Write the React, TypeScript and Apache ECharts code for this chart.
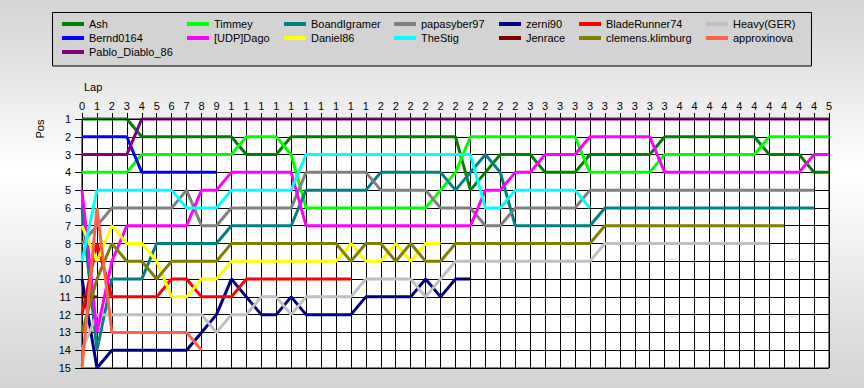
import React, { useEffect, useRef } from "react";
import * as echarts from "echarts";

// Drivers in series (legend row-major) order
const drivers = [
  "Ash", "Timmey", "BoandIgramer", "papasyber97", "zerni90", "BladeRunner74", "Heavy(GER)",
  "Bernd0164", "[UDP]Dago", "Daniel86", "TheStig", "Jenrace", "clemens.klimburg", "approxinova",
  "Pablo_Diablo_86",
];
const colors = [
  "#008000", "#00FF00", "#008080", "#808080", "#000080", "#FF0000", "#C0C0C0",
  "#0000FF", "#FF00FF", "#FFFF00", "#00FFFF", "#800000", "#808000", "#FF6347",
  "#800080",
];

// Position per lap, starting at lap 0
const ash = [1,1,1,1,2,2,2,2,2,2,2,3,3,3,2,2,2,2,2,2,2,2,2,2,2,2,5,4,3,3,3,4,4,4,3,3,3,3,3,2,2,2,2,2,2,2,3,3,3,4,4];
const timmey = [4,4,4,4,3,3,3,3,3,3,3,2,2,2,3,6,6,6,6,6,6,6,6,6,5,4,2,2,2,2,2,2,2,2,4,4,4,4,4,3,3,3,3,3,3,3,2,2,2,2,2];
const boandIgramer = [6,14,10,10,10,8,8,8,8,8,7,7,7,7,7,5,5,5,5,5,4,4,4,4,4,5,4,3,4,7,7,7,7,7,7,6,6,6,6,6,6,6,6,6,6,6,6,6,6,6];
const papasyber97 = [8,7,6,6,6,6,6,5,7,7,6,6,6,6,6,4,4,4,4,4,5,5,5,5,6,6,6,7,7,6,6,6,6,6,5,5,5,5,5,5,5,5,5,5,5,5,5,5,5,5];
const zerni90 = [10,15,14,14,14,14,14,14,13,12,10,11,12,12,11,12,12,12,12,11,11,11,11,10,11,10,10];
const bladeRunner74 = [12,8,11,11,11,11,10,10,11,11,11,10,10,10,10,10,10,10,10];
const heavyGER = [14,12,12,12,12,12,12,12,12,13,12,12,11,11,12,11,11,11,11,10,10,10,10,11,10,9,9,9,9,9,9,9,9,9,9,8,8,8,8,8,8,8,8,8,8,8,8];
const bernd0164 = [2,2,2,2,4,4,4,4,4,4];
const udpDago = [5,13,9,7,7,7,7,7,5,5,4,4,4,4,4,7,7,7,7,7,7,7,7,7,7,7,7,5,5,4,4,3,3,3,2,2,2,2,2,4,4,4,4,4,4,4,4,4,4,3,3];
const daniel86 = [7,9,7,8,8,9,11,11,10,10,9,9,9,9,9,9,9,9,8,9,9,8,9,8,8];
const theStig = [9,5,5,5,5,5,5,6,6,6,5,5,5,5,5,3,3,3,3,3,3,3,3,3,3,3,3,6,6,5,5,5,5,5,6];
const jenrace = [11,11];
const clemensKlimburg = [13,10,8,9,9,10,9,9,9,9,8,8,8,8,8,8,8,8,9,8,8,9,8,9,9,8,8,8,8,8,8,8,8,8,8,7,7,7,7,7,7,7,7,7,7,7,7,7];
const approxinova = [15,6,13,13,13,13,13,13,14];
const pabloDiablo86 = [3,3,3,3,1,1,1,1,1,1,1,1,1,1,1,1,1,1,1,1,1,1,1,1,1,1,1,1,1,1,1,1,1,1,1,1,1,1,1,1,1,1,1,1,1,1,1,1,1,1,1];

const positions = [
  ash, timmey, boandIgramer, papasyber97, zerni90, bladeRunner74, heavyGER,
  bernd0164, udpDago, daniel86, theStig, jenrace, clemensKlimburg, approxinova,
  pabloDiablo86,
];

// Lap tick labels (only first digit shown, as in the original)
const lapLabels = "012345678911111111112222222222333333333344444444445".split("");
const legendColumns = [
  ["Ash", "Bernd0164", "Pablo_Diablo_86"],
  ["Timmey", "[UDP]Dago"],
  ["BoandIgramer", "Daniel86"],
  ["papasyber97", "TheStig"],
  ["zerni90", "Jenrace"],
  ["BladeRunner74", "clemens.klimburg"],
  ["Heavy(GER)", "approxinova"],
];

const FONT = "'Liberation Sans', Arial, sans-serif";

export default function App() {
  const ref = useRef<HTMLDivElement>(null);

  useEffect(() => {
    const chart = echarts.init(ref.current!, null, { renderer: "svg" });
    const legendLefts = [62, 187, 284, 394, 499, 579, 706];

    const option: any = {
      animation: false,
      backgroundColor: "transparent",
      textStyle: { fontFamily: FONT },
      graphic: [
        {
          type: "rect",
          z: 0,
          shape: { x: 52.5, y: 12.5, width: 759, height: 53.5 },
          style: { fill: "#D3D3D3", stroke: "#000", lineWidth: 1 },
        },
        {
          type: "text",
          z: 5,
          x: 84,
          y: 87,
          style: { text: "Lap", fill: "#000", font: `11px ${FONT}`, align: "left", verticalAlign: "middle" },
        },
        {
          type: "text",
          z: 5,
          x: 40,
          y: 129,
          rotation: Math.PI / 2,
          style: { text: "Pos", fill: "#000", font: `11px ${FONT}`, align: "center", verticalAlign: "middle" },
        },
      ],
      legend: legendLefts.map((left, c) => ({
        orient: "vertical",
        left,
        top: 17,
        padding: 0,
        itemGap: 0,
        itemWidth: 22,
        itemHeight: 4,
        icon: "rect",
        selectedMode: false,
        textStyle: { fontFamily: FONT, fontSize: 11, color: "#000", lineHeight: 14 },
        data: legendColumns[c],
      })),
      grid: {
        left: 82,
        top: 119,
        width: 747,
        height: 249,
        show: true,
        backgroundColor: "#FFFFFF",
        borderColor: "#000",
        borderWidth: 1,
      },
      xAxis: [
        {
          type: "value",
          position: "top",
          min: 0,
          max: 50,
          interval: 1,
          axisLine: { show: true, lineStyle: { color: "#000", width: 1 } },
          axisTick: { show: true, length: 6, lineStyle: { color: "#000" } },
          axisLabel: {
            margin: 8,
            color: "#000",
            fontSize: 11,
            fontFamily: FONT,
            formatter: (v: number) => lapLabels[v] ?? "",
          },
          splitLine: { show: true, lineStyle: { color: "#000", width: 1 } },
        },
        {
          type: "value",
          position: "top",
          min: 0,
          max: 50,
          z: 10,
          axisLine: { show: true, lineStyle: { color: "#000", width: 1 } },
          axisTick: { show: false },
          axisLabel: { show: false },
          splitLine: { show: false },
        },
      ],
      yAxis: {
        type: "value",
        inverse: true,
        min: 1,
        max: 15,
        interval: 1,
        axisLine: { show: true, lineStyle: { color: "#000", width: 1 } },
        axisTick: { show: true, length: 7, lineStyle: { color: "#000" } },
        axisLabel: { margin: 11, color: "#000", fontSize: 11, fontFamily: FONT },
        splitLine: { show: true, lineStyle: { color: "#000", width: 1 } },
      },
      series: drivers.map((name, i) => ({
        type: "line",
        name,
        xAxisIndex: 0,
        color: colors[i],
        symbol: "none",
        showSymbol: false,
        clip: false,
        emphasis: { disabled: true },
        lineStyle: { width: 3, color: colors[i] },
        data: positions[i].map((p, lap) => [lap, p]),
      })),
    };

    chart.setOption(option);
    return () => chart.dispose();
  }, []);

  return (
    <div
      style={{
        position: "absolute",
        left: 0,
        top: 0,
        width: 864,
        height: 388,
        background: "linear-gradient(to bottom, #D3D3D3 0%, #FFFFFF 44%, #D3D3D3 100%)",
      }}
    >
      <div ref={ref} style={{ width: 864, height: 388 }} />
    </div>
  );
}
